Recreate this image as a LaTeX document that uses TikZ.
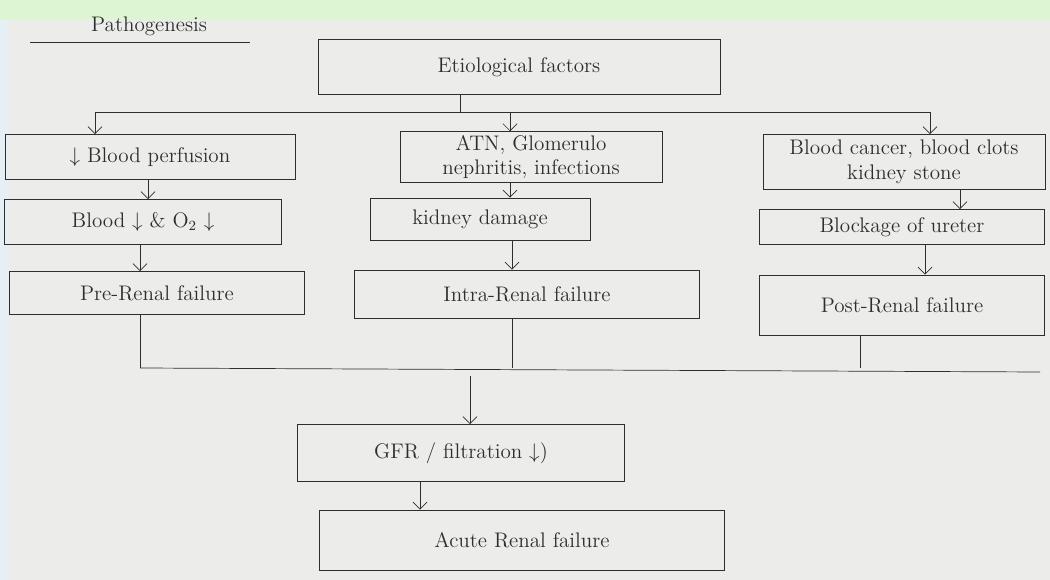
\documentclass[tikz,border=0pt]{standalone}
\usepackage{tikz}
\usetikzlibrary{arrows.meta,positioning}
\definecolor{ink}{HTML}{2E2E2E}
\definecolor{paper}{HTML}{ECECEA}
\definecolor{band}{HTML}{DDF5D2}
\definecolor{edge}{HTML}{E6EEF6}
\tikzset{
  box/.style={draw=ink,thin,text=ink,inner sep=2pt,align=center,font=\large},
  link/.style={draw=ink,thin,-{Straight Barb[length=4pt]}},
  bar/.style={draw=ink,thin}
}

\begin{document}
\begin{tikzpicture}[x=0.02cm,y=-0.02cm]
  % paper and photo border
  \fill[paper] (0,0) rectangle (1050,580);
  \fill[band] (0,0) rectangle (1050,20);
  \fill[edge] (0,20) rectangle (8,580);
  \useasboundingbox (0,0) rectangle (1050,580);

  \node[text=ink,font=\large,anchor=west] (title) at (85,26) {Pathogenesis};
  \draw[bar] (30,42) -- (250,42);

  % top
  \node[box,minimum width=402*0.02cm,minimum height=55*0.02cm] (etio) at (519,67) {Etiological factors};

  % three causes
  \node[box,minimum width=290*0.02cm,minimum height=45*0.02cm] (perf) at (150,157) {$\downarrow$ Blood perfusion};
  \node[box,minimum width=262*0.02cm,minimum height=45*0.02cm] (atn) at (531,157) {ATN, Glomerulo\\nephritis, infections};
  \node[box,minimum width=282*0.02cm,minimum height=55*0.02cm] (obst) at (904,162) {Blood cancer, blood clots\\kidney stone};

  \node[box,minimum width=277*0.02cm,minimum height=45*0.02cm] (blood) at (143,222) {Blood $\downarrow$ \& O$_2$ $\downarrow$};
  \node[box,minimum width=220*0.02cm,minimum height=42*0.02cm] (damage) at (480,219) {kidney damage};
  \node[box,minimum width=285*0.02cm,minimum height=35*0.02cm] (ureter) at (902,227) {Blockage of ureter};

  \node[box,minimum width=295*0.02cm,minimum height=43*0.02cm] (pre) at (157,293) {Pre-Renal failure};
  \node[box,minimum width=345*0.02cm,minimum height=48*0.02cm] (intra) at (527,294) {Intra-Renal failure};
  \node[box,minimum width=285*0.02cm,minimum height=60*0.02cm] (post) at (902,305) {Post-Renal failure};

  \node[box,minimum width=327*0.02cm,minimum height=57*0.02cm] (gfr) at (461,453) {GFR / filtration $\downarrow$)};
  \node[box,minimum width=405*0.02cm,minimum height=60*0.02cm] (arf) at (522,540) {Acute Renal failure};

  % split
  \coordinate (split) at (460,112);
  \coordinate (sL) at (95,112);
  \coordinate (sM) at (510,112);
  \coordinate (sR) at (930,112);
  \draw[bar] (etio.south -| split) -- (split);
  \draw[bar] (sL) -- (sR);
  \draw[link] (sL) -- (sL |- perf.north);
  \draw[link] (sM) -- (sM |- atn.north);
  \draw[link] (sR) -- (sR |- obst.north);

  % columns
  \coordinate (cL1) at (148,0);
  \coordinate (cL2) at (140,0);
  \coordinate (cM1) at (510,0);
  \coordinate (cM2) at (512,0);
  \coordinate (cR1) at (960,0);
  \coordinate (cR2) at (925,0);
  \draw[link] (perf.south -| cL1) -- (blood.north -| cL1);
  \draw[link] (atn.south -| cM1) -- (damage.north -| cM1);
  \draw[link] (obst.south -| cR1) -- (ureter.north -| cR1);
  \draw[link] (blood.south -| cL2) -- (pre.north -| cL2);
  \draw[link] (damage.south -| cM2) -- (intra.north -| cM2);
  \draw[link] (ureter.south -| cR2) -- (post.north -| cR2);

  % merge
  \coordinate (jL) at (140,368);
  \coordinate (jM) at (512,368);
  \coordinate (jR) at (860,368);
  \coordinate (jE) at (1040,372);
  \coordinate (down) at (470,368);
  \draw[bar] (pre.south -| jL) -- (jL);
  \draw[bar] (intra.south -| jM) -- (jM);
  \draw[bar] (post.south -| jR) -- (jR);
  \draw[bar] (jL) -- (jE);
  \draw[link] ([yshift=-8*0.02cm]down) -- (down |- gfr.north);
  \draw[link] (gfr.south -| 420,0) -- (arf.north -| 420,0);
\end{tikzpicture}
\end{document}
